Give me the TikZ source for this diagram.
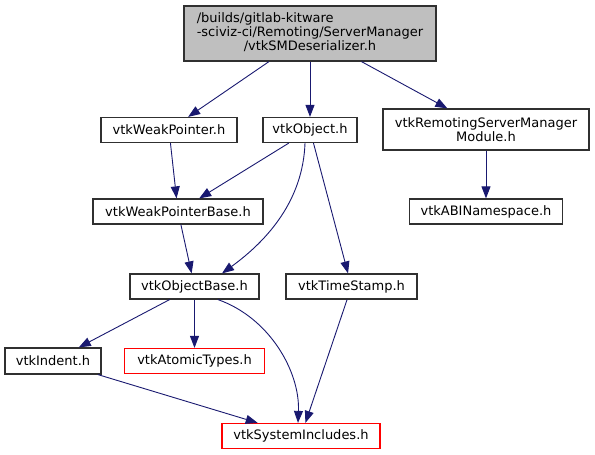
\documentclass[tikz,border=0pt]{standalone}
\usepackage{fontspec}
\setmainfont{DejaVu Sans}
\usetikzlibrary{arrows.meta,calc}
\definecolor{edgeblue}{HTML}{191970}
\definecolor{boxgrey}{HTML}{303030}
\definecolor{topfill}{HTML}{BFBFBF}
\definecolor{missred}{HTML}{FF0000}

\begin{document}
\begin{tikzpicture}[x=1pt,y=1pt,>={Triangle[length=12pt,width=9pt]},
  file/.style={draw=boxgrey,line width=1.2pt,fill=white,inner sep=0pt,
    minimum height=25pt,font=\fontsize{13}{12.5}\selectfont},
  extfile/.style={file,draw=missred},
  dep/.style={->,edgeblue,line width=0.9pt}]
  \useasboundingbox (0,0) rectangle (595,455);
  % files
  \node[file,fill=topfill,minimum width=252pt,minimum height=55pt] (main) at (310,421.5)
    {\begin{tabular}{@{}l@{}}/builds/gitlab-kitware\\-sciviz-ci/Remoting/ServerManager\\
      \multicolumn{1}{@{}c@{}}{/vtkSMDeserializer.h}\end{tabular}};
  \node[file,minimum width=136pt] (weakptr) at (169,325) {vtkWeakPointer.h};
  \node[file,minimum width=94pt] (object) at (310,325) {vtkObject.h};
  \node[file,minimum width=206pt,minimum height=41pt,align=center] (rsmodule) at (486,325.5)
    {vtkRemotingServerManager\\Module.h};
  \node[file,minimum width=170pt] (weakbase) at (178,243.5) {vtkWeakPointerBase.h};
  \node[file,minimum width=153pt] (abins) at (486,243.5) {vtkABINamespace.h};
  \node[file,minimum width=129pt] (objbase) at (194.5,168.5) {vtkObjectBase.h};
  \node[file,minimum width=131pt] (timestamp) at (351.5,168.5) {vtkTimeStamp.h};
  \node[file,minimum width=96pt,minimum height=26pt] (indent) at (53,94) {vtkIndent.h};
  \node[extfile,minimum width=140pt] (atomic) at (194.5,94) {vtkAtomicTypes.h};
  \node[extfile,minimum width=158pt] (sysinc) at (301,19) {vtkSystemIncludes.h};
  % includes
  \draw[dep] (main) -- (weakptr);
  \draw[dep] (main) -- (object);
  \draw[dep] (main) -- (rsmodule);
  \draw[dep] (weakptr) -- (weakbase);
  \draw[dep] (object) -- (weakbase);
  \draw[dep] ($(object.south)+(-5,0)$) .. controls (303,255) and (268,215) .. ($(objbase.north)+(27.5,0)$);
  \draw[dep] (object) -- (timestamp);
  \draw[dep] (rsmodule) -- (abins);
  \draw[dep] (weakbase) -- (objbase);
  \draw[dep] (objbase) -- (indent);
  \draw[dep] (objbase) -- (atomic);
  \draw[dep] ($(objbase.south)+(23.5,0)$) .. controls (270,137) and (300,83) .. ($(sysinc.north)+(-3,0)$);
  \draw[dep] (timestamp) -- (sysinc);
  \draw[dep] (indent) -- (sysinc);
\end{tikzpicture}
\end{document}
